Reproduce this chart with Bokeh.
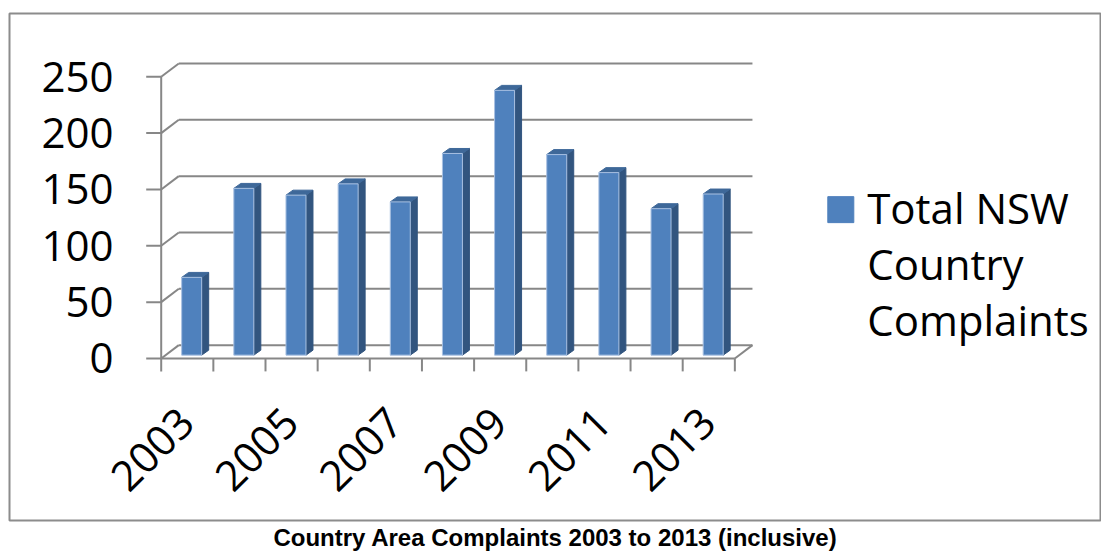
import math
from bokeh.plotting import figure
from bokeh.models import Range1d, Title
from bokeh.core.properties import value
from bokeh.embed import file_html
from bokeh.resources import INLINE

# ---------------- data ----------------
years = ["2003", "2004", "2005", "2006", "2007", "2008",
         "2009", "2010", "2011", "2012", "2013"]
complaints = [69, 148, 142, 152, 136, 179, 235, 178, 162, 130, 143]
y_ticks = [0, 50, 100, 150, 200, 250]
x_tick_labels = ["2003", "2005", "2007", "2009", "2011", "2013"]
legend_lines = ["Total NSW", "Country", "Complaints"]
title_text = "Country Area Complaints 2003 to 2013 (inclusive)"

# ---------------- layout (pixels) ----------------
W, H = 1101, 551
FL, FT, FB = 9, 13, 523          # frame left / top / bottom
AX_X0 = 160.7                    # x pixel of category edge 0
BAND = 52.15                     # pixels per category
Y0_PX = 360.0                    # y pixel of value 0
PX_PER_VAL = 56.667 / 50.0       # pixels per value unit
DEPTH_X_PX, DEPTH_Y_PX = 17.6, 13.4

def px_x(px):
    return (px - AX_X0) / BAND

def px_y(py):
    return (Y0_PX - py) / PX_PER_VAL

DXu = DEPTH_X_PX / BAND
DYu = DEPTH_Y_PX / PX_PER_VAL
n = len(years)

GRID = "#878787"
FRONT = "#4F81BD"
SIDE = "#32557F"
TOP = "#3E6899"
FONT = "Open Sans"

p = figure(width=W, height=H, output_backend="svg", toolbar_location=None,
           x_range=Range1d(px_x(FL), px_x(W)), y_range=Range1d(px_y(FB), px_y(FT)),
           x_axis_type=None, y_axis_type=None,
           min_border_left=FL, min_border_top=FT, min_border_right=0,
           min_border_bottom=H - FB)
p.outline_line_color = "#8C8C8C"
p.outline_line_width = 2
p.background_fill_color = "white"
p.border_fill_color = "white"

# back wall gridlines
ymax = max(y_ticks)
p.multi_line(xs=[[DXu, n + DXu] for v in y_ticks], ys=[[v + DYu, v + DYu] for v in y_ticks],
             line_color=GRID, line_width=2)
# left wall connectors
p.multi_line(xs=[[0, DXu] for v in y_ticks], ys=[[v, v + DYu] for v in y_ticks],
             line_color=GRID, line_width=2)
# y axis line and ticks
p.multi_line(xs=[[0, 0]], ys=[[0, ymax]], line_color=GRID, line_width=2)
p.multi_line(xs=[[-15 / BAND, 0] for v in y_ticks], ys=[[v, v] for v in y_ticks],
             line_color=GRID, line_width=2)
# floor: front edge and right edge
p.multi_line(xs=[[0, n], [n, n + DXu]], ys=[[0, 0], [0, DYu]], line_color=GRID, line_width=2)
# x ticks
p.multi_line(xs=[[k, k] for k in range(n + 1)], ys=[[0, -13 / PX_PER_VAL] for k in range(n + 1)],
             line_color=GRID, line_width=2)

# 3D bars
HW = 10.0 / BAND
FS = 0.25
BX = 7.0 / BAND
BY = 5.0 / PX_PER_VAL
lefts, rights, bottoms, tops = [], [], [], []
side_xs, side_ys, top_xs, top_ys = [], [], [], []
for i, v in enumerate(complaints):
    c = i + 0.5
    L = c - HW + FS * DXu
    R = c + HW + FS * DXu
    b = FS * DYu
    t = v + FS * DYu
    lefts.append(L); rights.append(R); bottoms.append(b); tops.append(t)
    side_xs.append([R, R + BX, R + BX, R]); side_ys.append([b, b + BY, t + BY, t])
    top_xs.append([L, R, R + BX, L + BX]); top_ys.append([t, t, t + BY, t + BY])

p.patches(xs=side_xs, ys=side_ys, fill_color=SIDE, line_color=SIDE, line_width=1)
p.patches(xs=top_xs, ys=top_ys, fill_color=TOP, line_color=TOP, line_width=1)
p.quad(left=lefts, right=rights, bottom=bottoms, top=tops, fill_color=FRONT,
       line_color="#A9C1E2", line_width=1)

# y tick labels
p.text(x=[px_x(113)] * len(y_ticks), y=y_ticks, text=[str(v) for v in y_ticks],
       text_align="right", text_baseline="middle", text_font=value(FONT),
       text_font_size="42px", text_color="black")

# x tick labels (every other year, rotated 45 deg)
xl_x = [years.index(s) + 0.5 - 1 / BAND for s in x_tick_labels]
p.text(x=xl_x, y=[px_y(417)] * len(x_tick_labels), text=x_tick_labels, angle=math.pi / 4,
       text_align="right", text_baseline="middle", text_font=value(FONT),
       text_font_size="42px", text_color="black")

# legend
p.rect(x=[px_x(840.3)], y=[px_y(210.3)], width=26, height=26, width_units="screen",
       height_units="screen", fill_color=FRONT, line_color=FRONT)
p.text(x=[px_x(866.7)] * 3, y=[px_y(208.3), px_y(264.8), px_y(321.3)], text=legend_lines,
       text_align="left", text_baseline="middle", text_font=value(FONT),
       text_font_size="42px", text_color="black")

# caption below
t = Title(text=title_text, align="center", text_font="Liberation Sans",
          text_font_style="bold", text_font_size="24px", text_color="black",
          standoff=2, offset=6)
p.add_layout(t, "below")

open("out.html", "w").write(file_html(p, INLINE))
